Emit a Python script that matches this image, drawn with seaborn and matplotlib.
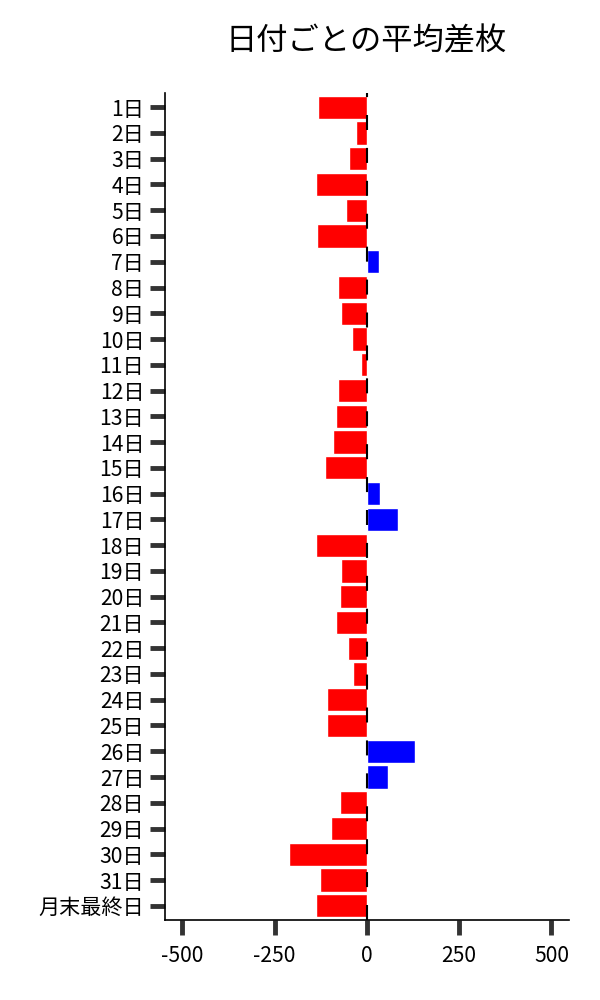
import numpy as np
import pandas as pd
import matplotlib
matplotlib.use("Agg")
import matplotlib.pyplot as plt
import seaborn as sns

# --- Datos ---
dias = [f"{i}日" for i in range(1, 32)] + ["月末最終日"]
diferencia = [-133, -30, -49, -138, -57, -136, 33, -79, -70, -41, -16, -79, -84, -92,
              -114, 35, 84, -138, -70, -73, -84, -51, -38, -108, -108, 130, 57, -73,
              -98, -211, -127, -138]

df = pd.DataFrame({"日付": dias, "差枚": diferencia})
df["符号"] = np.where(df["差枚"] >= 0, "plus", "minus")

sns.set_style("white")
plt.rcParams["font.family"] = ["Noto Sans CJK JP", "DejaVu Sans"]

fig = plt.figure(figsize=(6, 10), dpi=100)
ax = fig.add_axes([0.275, 0.08, 0.673, 0.827])

sns.barplot(data=df, x="差枚", y="日付", hue="符号",
            palette={"plus": "#0000ff", "minus": "#ff0000"},
            dodge=False, width=0.9, saturation=1, legend=False, ax=ax, orient="h")

# línea de cero discontinua
ax.axvline(0, color="black", ls=(0, (7.2, 8.6)), lw=1.5, zorder=3)

ax.set_xlim(-547, 547)
ax.set_ylim(len(dias) - 0.45, -0.55)
ax.set_xticks([-500, -250, 0, 250, 500])
ax.set_xticklabels(["-500", "-250", "0", "250", "500"])
ax.set_xlabel("")
ax.set_ylabel("")
ax.tick_params(axis="both", bottom=True, left=True, length=11, width=3.5,
               color="#333333", labelsize=15.2, labelcolor="black")
ax.tick_params(axis="x", pad=7)
ax.tick_params(axis="y", pad=4)
sns.despine(ax=ax)
for s in ["left", "bottom"]:
    ax.spines[s].set_color("black")
    ax.spines[s].set_linewidth(1.2)

fig.suptitle("日付ごとの平均差枚", fontsize=22.5, x=0.61, y=0.975, color="black")

fig.savefig("out.png", dpi=100)
